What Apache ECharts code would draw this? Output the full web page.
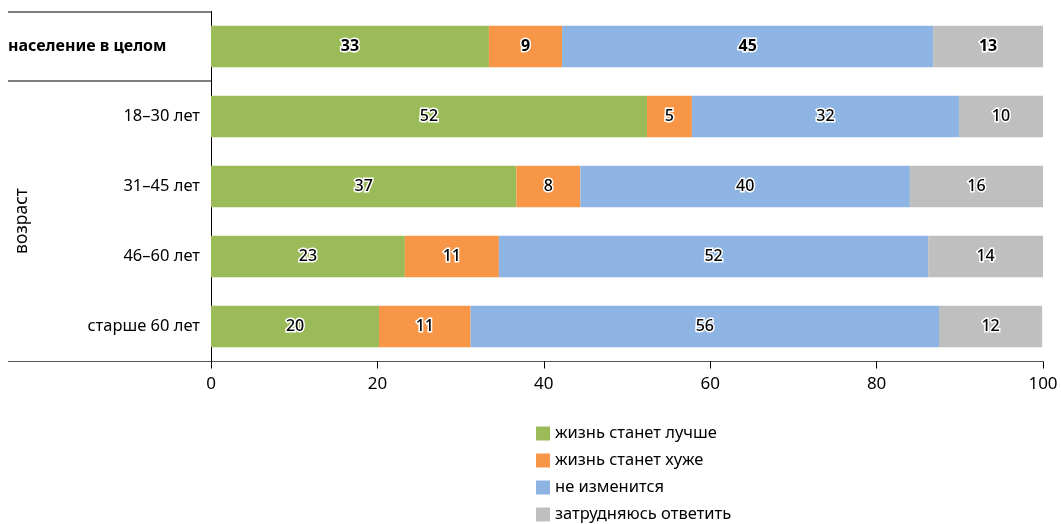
<!DOCTYPE html>
<html>
<head>
<meta charset="utf-8">
<script src="https://cdn.jsdelivr.net/npm/echarts@6/dist/echarts.min.js"></script>
<style>
  html, body { margin: 0; padding: 0; background: #fff; }
  #main { width: 1061px; height: 524px; }
</style>
</head>
<body>
<div id="main"></div>
<script>
const categories = ["население в целом", "18–30 лет", "31–45 лет", "46–60 лет", "старше 60 лет"];
const seriesNames = ["жизнь станет лучше", "жизнь станет хуже", "не изменится", "затрудняюсь ответить"];
const better = [33.4, 52.4, 36.7, 23.3, 20.2];
const worse = [8.8, 5.4, 7.7, 11.3, 11.0];
const same = [44.6, 32.1, 39.6, 51.6, 56.3];
const unsure = [13.2, 10.1, 16.1, 13.9, 12.4];
const xTicks = [0, 20, 40, 60, 80, 100];
const groupTitle = "возраст";

const colors = ["#9bbb59", "#f79646", "#8eb4e3", "#bfbfbf"];
const font = "'Noto Sans', 'DejaVu Sans', sans-serif";

var myChart = echarts.init(document.getElementById("main"));

function makeSeries(name, values, color) {
	return {
		name: name,
		type: "bar",
		stack: "total",
		barCategoryGap: "41%",
		itemStyle: { color: color },
		label: {
			show: true,
			position: "inside",
			color: "#000",
			fontFamily: font,
			fontSize: 16,
			fontWeight: 500,
			textBorderColor: "#fff",
			textBorderWidth: 3,
			formatter: (p) => Math.round(p.value)
		},
		data: values.map((v, i) => (i === 0 ? { value: v, label: { fontWeight: "bold" } } : v))
	};
}

var option = {
	animation: false,
	grid: { left: 211, right: 18, top: 11.5, bottom: 162.5, containLabel: false },
	legend: {
		orient: "vertical",
		left: 536,
		top: 425,
		padding: 0,
		height: 140,
		itemWidth: 14,
		itemHeight: 14,
		itemGap: 10,
		icon: "rect",
		textStyle: { fontFamily: font, fontSize: 16.5, color: "#000" },
		data: seriesNames
	},
	xAxis: {
		type: "value",
		min: 0,
		max: 100,
		interval: 20,
		axisLine: { show: true, lineStyle: { color: "#555", width: 1 } },
		axisTick: { show: true, length: 7, lineStyle: { color: "#000" } },
		splitLine: { show: false },
		axisLabel: {
			margin: 14,
			fontFamily: font,
			fontSize: 17,
			color: "#000",
			formatter: (v) => (xTicks.indexOf(v) >= 0 ? String(v) : "")
		}
	},
	yAxis: {
		type: "category",
		inverse: true,
		data: categories,
		axisLine: { show: true, lineStyle: { color: "#000", width: 1 } },
		axisTick: { show: false },
		axisLabel: {
			margin: 11,
			align: "right",
			fontFamily: font,
			fontSize: 16.5,
			color: "#000",
			formatter: (v, i) => (i === 0 ? "{b|" + v + "}" : v),
			rich: {
				b: { width: 192, align: "left", fontWeight: "bold", fontFamily: font, fontSize: 16, color: "#000" }
			}
		}
	},
	graphic: [
		{ type: "line", shape: { x1: 8, y1: 12, x2: 211, y2: 12 }, style: { stroke: "#000", lineWidth: 1 } },
		{ type: "line", shape: { x1: 8, y1: 81, x2: 211, y2: 81 }, style: { stroke: "#000", lineWidth: 1 } },
		{ type: "line", shape: { x1: 8, y1: 361.5, x2: 211, y2: 361.5 }, style: { stroke: "#555", lineWidth: 1 } },
		{
			type: "text",
			x: 22,
			y: 221,
			rotation: Math.PI / 2,
			style: { text: groupTitle, fontFamily: font, fontSize: 17.5, fill: "#000", textAlign: "center", textVerticalAlign: "middle" }
		}
	],
	series: [
		makeSeries(seriesNames[0], better, colors[0]),
		makeSeries(seriesNames[1], worse, colors[1]),
		makeSeries(seriesNames[2], same, colors[2]),
		makeSeries(seriesNames[3], unsure, colors[3])
	]
};

myChart.setOption(option);
</script>
</body>
</html>
